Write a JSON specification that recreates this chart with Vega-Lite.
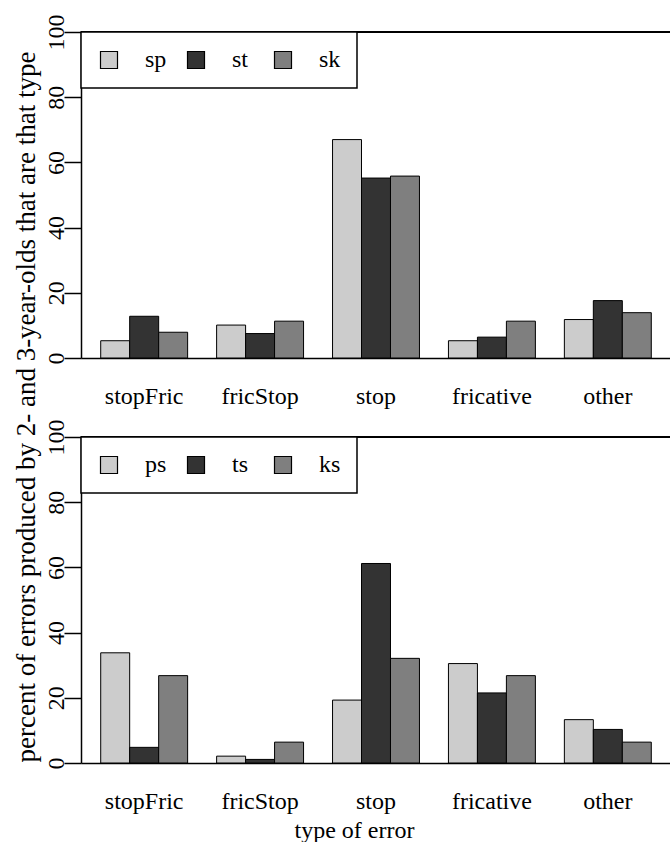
{
  "$schema": "https://vega.github.io/schema/vega-lite/v6.json",
  "background": "white",
  "padding": {"left": 12, "top": 14, "right": 0, "bottom": 0},
  "config": {
    "font": "Liberation Serif",
    "view": {"stroke": null},
    "axis": {"labelFont": "Liberation Serif", "titleFont": "Liberation Serif", "labelColor": "black", "titleColor": "black", "domainColor": "black", "tickColor": "black", "grid": false},
    "legend": {"labelFont": "Liberation Serif", "strokeWidth": 1.5}
  },
  "title": {
    "text": "percent of errors produced by 2- and 3-year-olds that are that type",
    "orient": "left",
    "anchor": "middle",
    "font": "Liberation Serif",
    "fontSize": 27,
    "fontWeight": "normal",
    "color": "black",
    "offset": 3,
    "dx": 21
  },
  "datasets": {
    "top": [
      {"type": "stopFric", "series": "sp", "value": 5.3},
      {"type": "stopFric", "series": "st", "value": 12.8},
      {"type": "stopFric", "series": "sk", "value": 7.9},
      {"type": "fricStop", "series": "sp", "value": 10.1},
      {"type": "fricStop", "series": "st", "value": 7.5},
      {"type": "fricStop", "series": "sk", "value": 11.3},
      {"type": "stop", "series": "sp", "value": 67.0},
      {"type": "stop", "series": "st", "value": 55.2},
      {"type": "stop", "series": "sk", "value": 55.8},
      {"type": "fricative", "series": "sp", "value": 5.3},
      {"type": "fricative", "series": "st", "value": 6.4},
      {"type": "fricative", "series": "sk", "value": 11.3},
      {"type": "other", "series": "sp", "value": 11.8},
      {"type": "other", "series": "st", "value": 17.6},
      {"type": "other", "series": "sk", "value": 13.9}
    ],
    "bottom": [
      {"type": "stopFric", "series": "ps", "value": 33.8},
      {"type": "stopFric", "series": "ts", "value": 4.8},
      {"type": "stopFric", "series": "ks", "value": 26.8},
      {"type": "fricStop", "series": "ps", "value": 2.1},
      {"type": "fricStop", "series": "ts", "value": 1.1},
      {"type": "fricStop", "series": "ks", "value": 6.4},
      {"type": "stop", "series": "ps", "value": 19.3},
      {"type": "stop", "series": "ts", "value": 61.2},
      {"type": "stop", "series": "ks", "value": 32.1},
      {"type": "fricative", "series": "ps", "value": 30.5},
      {"type": "fricative", "series": "ts", "value": 21.5},
      {"type": "fricative", "series": "ks", "value": 26.8},
      {"type": "other", "series": "ps", "value": 13.3},
      {"type": "other", "series": "ts", "value": 10.3},
      {"type": "other", "series": "ks", "value": 6.4}
    ]
  },
  "resolve": {"scale": {"color": "independent", "xOffset": "independent"}, "legend": {"color": "independent"}},
  "spacing": 11,
  "vconcat": [
    {
      "width": 590,
      "height": 326,
      "data": {"name": "top"},
      "layer": [
        {
          "mark": {"type": "bar", "stroke": "black", "strokeWidth": 1},
          "encoding": {
            "x": {"field": "type", "type": "nominal", "sort": ["stopFric", "fricStop", "stop", "fricative", "other"],
                  "scale": {"paddingInner": 0.25, "paddingOuter": 0.17},
                  "axis": {"title": null, "labelAngle": 0, "labelFontSize": 24, "ticks": false, "tickSize": 0, "labelPadding": 26, "domainWidth": 1.5, "labelBaseline": "top"}},
            "xOffset": {"field": "series", "type": "nominal", "sort": ["sp", "st", "sk"], "scale": {"paddingInner": 0, "paddingOuter": 0}},
            "y": {"field": "value", "type": "quantitative", "scale": {"domain": [0, 100], "nice": false},
                  "axis": {"title": null, "values": [0, 20, 40, 60, 80, 100], "labelAngle": -90, "labelAlign": "center", "labelBaseline": "alphabetic", "labelFontSize": 24, "tickSize": 17, "tickWidth": 1.5, "domainWidth": 1.5, "labelPadding": 1, "labelFlush": false, "labelOverlap": false}},
            "color": {"field": "series", "type": "nominal", "sort": ["sp", "st", "sk"],
                      "scale": {"domain": ["sp", "st", "sk"], "range": ["#cccccc", "#333333", "#7f7f7f"]},
                      "legend": {"orient": "none", "legendX": 0, "legendY": 0, "direction": "horizontal", "title": null,
                                 "strokeColor": "black", "fillColor": "white", "padding": 16, "gridAlign": "all", "columnPadding": 17,
                                 "symbolType": "square", "symbolSize": 289, "symbolStrokeColor": "black", "symbolStrokeWidth": 1.2,
                                 "labelFontSize": 24, "labelOffset": 24, "labelColor": "black"}}
          }
        },
        {
          "mark": {"type": "rule", "color": "black", "strokeWidth": 1.5},
          "encoding": {"y": {"datum": 100}}
        }
      ]
    },
    {
      "width": 590,
      "height": 326,
      "data": {"name": "bottom"},
      "layer": [
        {
          "mark": {"type": "bar", "stroke": "black", "strokeWidth": 1},
          "encoding": {
            "x": {"field": "type", "type": "nominal", "sort": ["stopFric", "fricStop", "stop", "fricative", "other"],
                  "scale": {"paddingInner": 0.25, "paddingOuter": 0.17},
                  "axis": {"title": "type of error", "titleFontSize": 24, "titleFontWeight": "normal", "titlePadding": 5, "titleX": 273, "labelAngle": 0, "labelFontSize": 24, "ticks": false, "tickSize": 0, "labelPadding": 26, "domainWidth": 1.5, "labelBaseline": "top"}},
            "xOffset": {"field": "series", "type": "nominal", "sort": ["ps", "ts", "ks"], "scale": {"paddingInner": 0, "paddingOuter": 0}},
            "y": {"field": "value", "type": "quantitative", "scale": {"domain": [0, 100], "nice": false},
                  "axis": {"title": null, "values": [0, 20, 40, 60, 80, 100], "labelAngle": -90, "labelAlign": "center", "labelBaseline": "alphabetic", "labelFontSize": 24, "tickSize": 17, "tickWidth": 1.5, "domainWidth": 1.5, "labelPadding": 1, "labelFlush": false, "labelOverlap": false}},
            "color": {"field": "series", "type": "nominal", "sort": ["ps", "ts", "ks"],
                      "scale": {"domain": ["ps", "ts", "ks"], "range": ["#cccccc", "#333333", "#7f7f7f"]},
                      "legend": {"orient": "none", "legendX": 0, "legendY": 0, "direction": "horizontal", "title": null,
                                 "strokeColor": "black", "fillColor": "white", "padding": 16, "gridAlign": "all", "columnPadding": 17,
                                 "symbolType": "square", "symbolSize": 289, "symbolStrokeColor": "black", "symbolStrokeWidth": 1.2,
                                 "labelFontSize": 24, "labelOffset": 24, "labelColor": "black"}}
          }
        },
        {
          "mark": {"type": "rule", "color": "black", "strokeWidth": 1.5},
          "encoding": {"y": {"datum": 100}}
        }
      ]
    }
  ]
}
